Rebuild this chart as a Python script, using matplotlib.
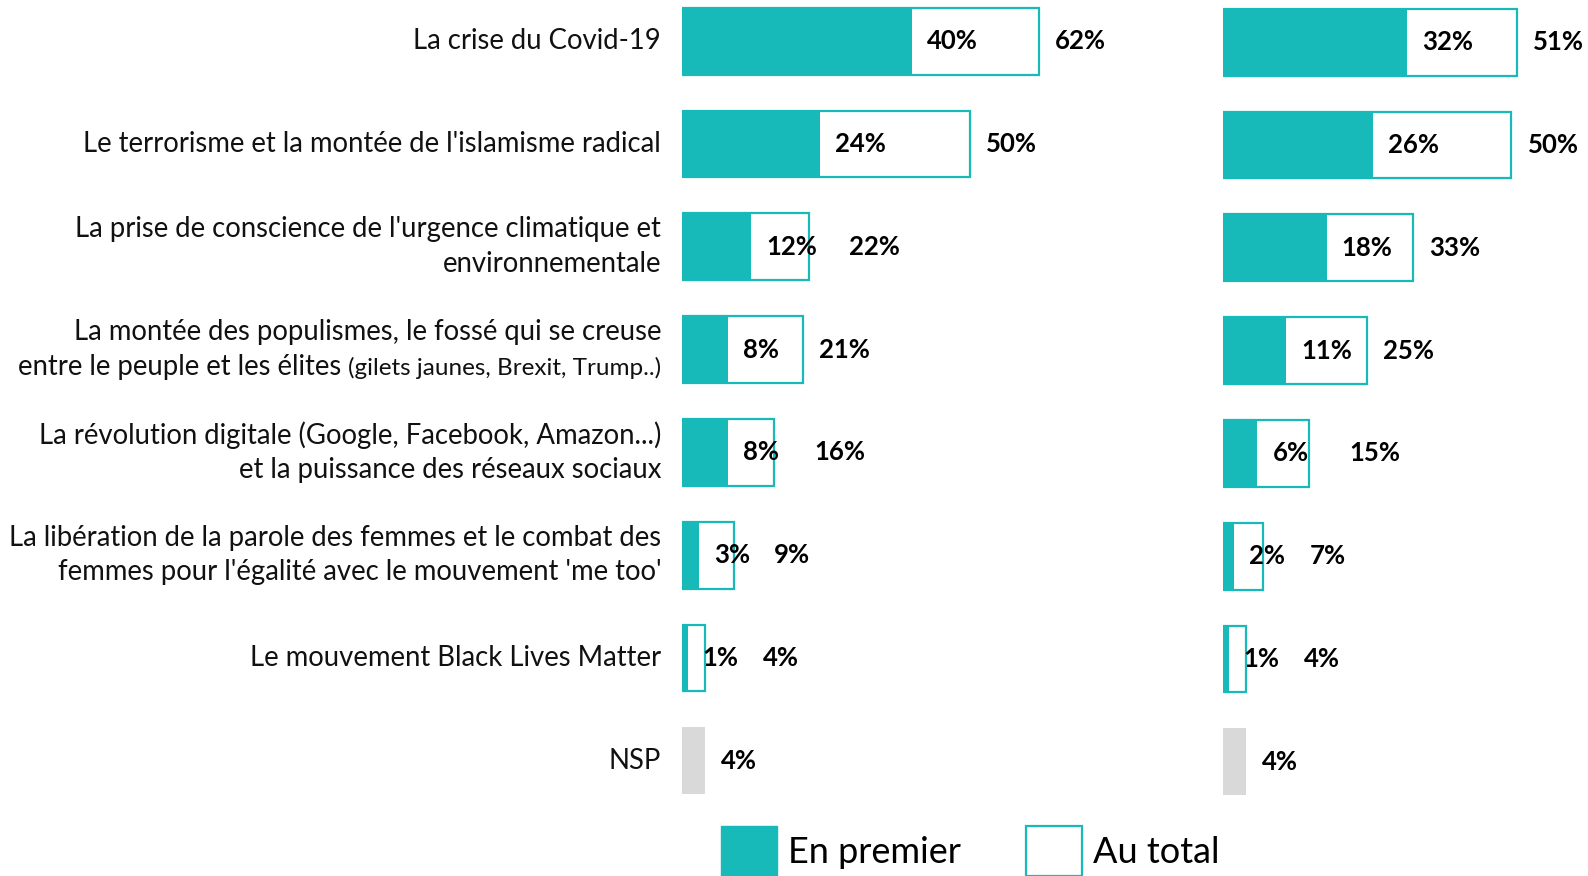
import matplotlib.pyplot as plt
from matplotlib.patches import Patch

plt.rcParams['font.family'] = ['Lato', 'DejaVu Sans']

# one entry per row, each entry is the list of lines of the label
categories = [
    ["La crise du Covid-19"],
    ["Le terrorisme et la montée de l'islamisme radical"],
    ["La prise de conscience de l'urgence climatique et", "environnementale"],
    ["La montée des populismes, le fossé qui se creuse",
     "entre le peuple et les élites (gilets jaunes, Brexit, Trump..)"],
    ["La révolution digitale (Google, Facebook, Amazon...)", "et la puissance des réseaux sociaux"],
    ["La libération de la parole des femmes et le combat des",
     "femmes pour l'égalité avec le mouvement 'me too'"],
    ["Le mouvement Black Lives Matter"],
    ["NSP"],
]
small_suffix = "(gilets jaunes, Brexit, Trump..)"

first_left = [40, 24, 12, 8, 8, 3, 1]
total_left = [62, 50, 22, 21, 16, 9, 4]
nsp_left = 4

first_right = [32, 26, 18, 11, 6, 2, 1]
total_right = [51, 50, 33, 25, 15, 7, 4]
nsp_right = 4

TEAL = '#17b9b9'
GREY = '#d9d9d9'

fig = plt.figure(figsize=(15.88, 8.76), dpi=100)
ax_l = fig.add_axes([0.4295, 0.0612, 0.2535, 0.9388])
ax_r = fig.add_axes([0.7700, 0.0600, 0.2290, 0.9388])


def draw_panel(ax, first, total, nsp, xmax):
    ys = list(range(len(first)))
    ax.barh(ys, total, height=0.65, color='white', edgecolor=TEAL, linewidth=1.6)
    ax.barh(ys, first, height=0.65, color=TEAL, linewidth=0)
    ax.barh([len(first)], [nsp], height=0.65, color=GREY, linewidth=0)
    for y, f, t in zip(ys, first, total):
        ax.text(f + 2.6, y, f"{f}%", ha='left', va='center', fontsize=18.5, fontweight='bold')
        # total label sits right of the bar, pushed further when the white part is narrow
        xt = t + 2.8 if t - f >= 12.5 else max(t + 7, f + 13)
        ax.text(xt, y, f"{t}%", ha='left', va='center', fontsize=18.5, fontweight='bold')
    ax.text(nsp + 2.8, len(first), f"{nsp}%", ha='left', va='center', fontsize=18.5,
            fontweight='bold')
    ax.set_xlim(0, xmax)
    ax.set_ylim(7.6, -0.4)
    ax.axis('off')


draw_panel(ax_l, first_left, total_left, nsp_left, 70)
draw_panel(ax_r, first_right, total_right, nsp_right, 63)

# category labels left of the left panel
for y, lines in enumerate(categories):
    n = len(lines)
    for i, line in enumerate(lines):
        dy = (n - 1) * 12.4 - i * 24.8
        kw = dict(xy=(0, y), xycoords=('axes fraction', 'data'), textcoords='offset points',
                  ha='right', va='center', fontsize=19.8, color='#111111')
        if line.endswith(small_suffix):
            main = line[:-len(small_suffix)]
            t_small = ax_l.annotate(small_suffix, xytext=(-15, dy - 1), **{**kw, 'fontsize': 17.5})
            ax_l.annotate(main, xy=(0, 0.5), xycoords=t_small, xytext=(0, 1),
                          textcoords='offset points', ha='right', va='center', fontsize=19.8,
                          color='#111111')
        else:
            ax_l.annotate(line, xytext=(-15, dy), **kw)

handles = [Patch(facecolor=TEAL, edgecolor=TEAL, label='En premier'),
           Patch(facecolor='white', edgecolor=TEAL, linewidth=1.6, label='Au total')]
fig.legend(handles=handles, loc='center', bbox_to_anchor=(0.611, 1 - 851 / 876), ncol=2,
           frameon=False, fontsize=26, handlelength=1.55, handleheight=1.75,
           handletextpad=0.3, columnspacing=1.8)

fig.savefig('out.png', dpi=100)
